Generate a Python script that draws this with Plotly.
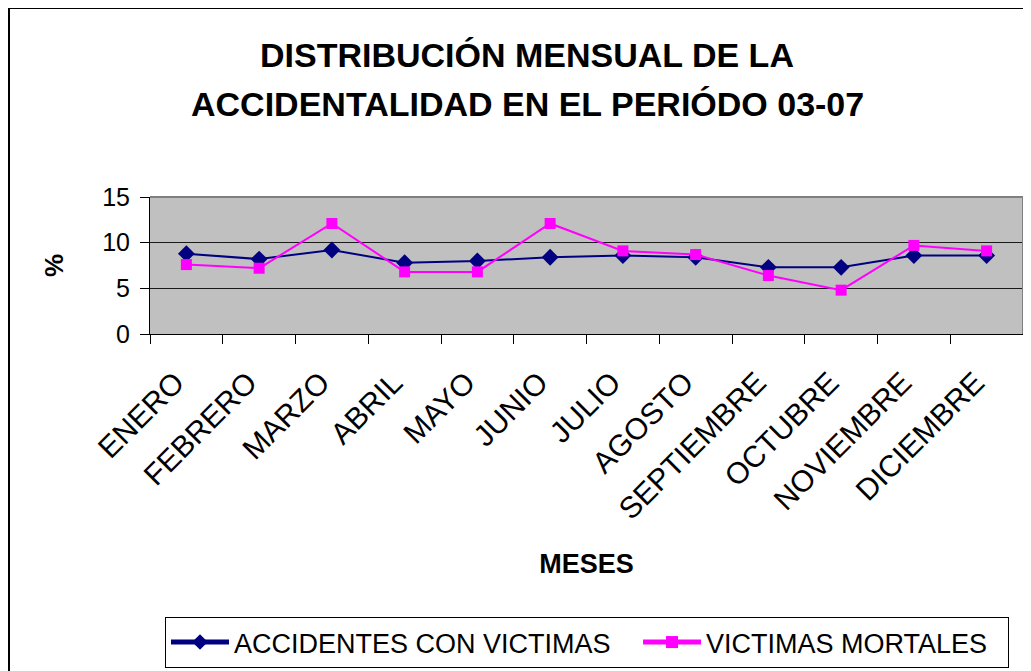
import plotly.graph_objects as go

meses = ["ENERO", "FEBRERO", "MARZO", "ABRIL", "MAYO", "JUNIO", "JULIO",
         "AGOSTO", "SEPTIEMBRE", "OCTUBRE", "NOVIEMBRE", "DICIEMBRE"]
accidentes_con_victimas = [8.8, 8.2, 9.2, 7.8, 8.0, 8.4, 8.6, 8.4, 7.3, 7.3, 8.6, 8.6]
victimas_mortales = [7.6, 7.2, 12.1, 6.8, 6.8, 12.1, 9.1, 8.7, 6.4, 4.8, 9.7, 9.1]
y_ticks = [0, 5, 10, 15]

FONT = "Liberation Sans, Arial, sans-serif"
OFF = 8  # page body margin: screen px = figure px + OFF
W, H = 1023, 663
L, R, T, B = 150 - OFF, 8, 197 - OFF, 337
pw, ph = W - L - R, H - T - B

def px(x):  # screen x -> paper x
    return (x - OFF - L) / pw

def py(y):  # screen y -> paper y
    return (H - B - (y - OFF)) / ph

NB = "\u00a0"
fig = go.Figure()
fig.add_trace(go.Scatter(
    x=meses, y=accidentes_con_victimas, name="ACCIDENTES CON VICTIMAS" + NB * 3,
    mode="lines+markers",
    line=dict(color="#000080", width=2),
    marker=dict(symbol="diamond", size=13, color="#000080"),
))
fig.add_trace(go.Scatter(
    x=meses, y=victimas_mortales, name="VICTIMAS MORTALES" + NB * 2,
    mode="lines+markers",
    line=dict(color="#FF00FF", width=2),
    marker=dict(symbol="square", size=11, color="#FF00FF"),
))

fig.update_layout(
    width=W, height=H,
    margin=dict(l=L, r=R, t=T, b=B, autoexpand=False),
    paper_bgcolor="white",
    plot_bgcolor="#C0C0C0",
    font=dict(family=FONT, color="black"),
    showlegend=True,
    legend=dict(
        orientation="h",
        x=px(165), xanchor="left",
        yref="container", y=1 - (617 - OFF) / H, yanchor="top",
        bordercolor="black", borderwidth=1,
        font=dict(size=27, family=FONT, color="black"),
        bgcolor="white",
        itemsizing="constant",
        itemwidth=58,
    ),
    xaxis=dict(
        type="category",
        range=[-0.5, len(meses) - 0.5],
        tickson="boundaries",
        ticks="outside", ticklen=9, tickcolor="black", tickwidth=1,
        tickangle=-45,
        tickfont=dict(size=30, family=FONT, color="black"),
        ticklabelstandoff=18,
        ticklabelshift=-11,
        showline=True, linecolor="black", linewidth=1,
        showgrid=False,
        title=dict(text="<b>MESES</b>", font=dict(size=27, family=FONT, color="black"),
                   standoff=29),
        automargin=False,
    ),
    yaxis=dict(
        range=[0, 15],
        tickvals=y_ticks,
        ticks="outside", ticklen=9, tickcolor="black", tickwidth=1,
        tickfont=dict(size=25, family=FONT, color="black"),
        ticklabelstandoff=5,
        showline=True, linecolor="black", linewidth=1,
        showgrid=True, gridcolor="#1a1a1a", gridwidth=1,
        zeroline=False,
        title=dict(text="<b>%</b>", font=dict(size=26, family=FONT, color="black"),
                   standoff=31),
        automargin=False,
    ),
)

# plot-area top/right gray border
fig.add_shape(type="line", xref="paper", yref="paper", x0=0, x1=1, y0=1, y1=1,
              line=dict(color="#808080", width=2), layer="above")
fig.add_shape(type="line", xref="paper", yref="paper", x0=1, x1=1, y0=0, y1=1,
              line=dict(color="#808080", width=2), layer="above")

# outer chart frame (left and top edges visible)
fig.add_shape(type="rect", xref="paper", yref="paper",
              x0=px(9), x1=px(1060), y0=py(700), y1=py(8),
              line=dict(color="black", width=2), fillcolor="rgba(0,0,0,0)")

# title, two lines
fig.add_annotation(text="<b>DISTRIBUCIÓN MENSUAL DE LA</b>", xref="paper", yref="paper",
                   x=px(527), y=py(55), xanchor="center", yanchor="middle",
                   showarrow=False, font=dict(size=34, family=FONT, color="black"))
fig.add_annotation(text="<b>ACCIDENTALIDAD EN EL PERIÓDO 03-07</b>", xref="paper", yref="paper",
                   x=px(527), y=py(104), xanchor="center", yanchor="middle",
                   showarrow=False, font=dict(size=34, family=FONT, color="black"))

fig.write_html("out.html")
